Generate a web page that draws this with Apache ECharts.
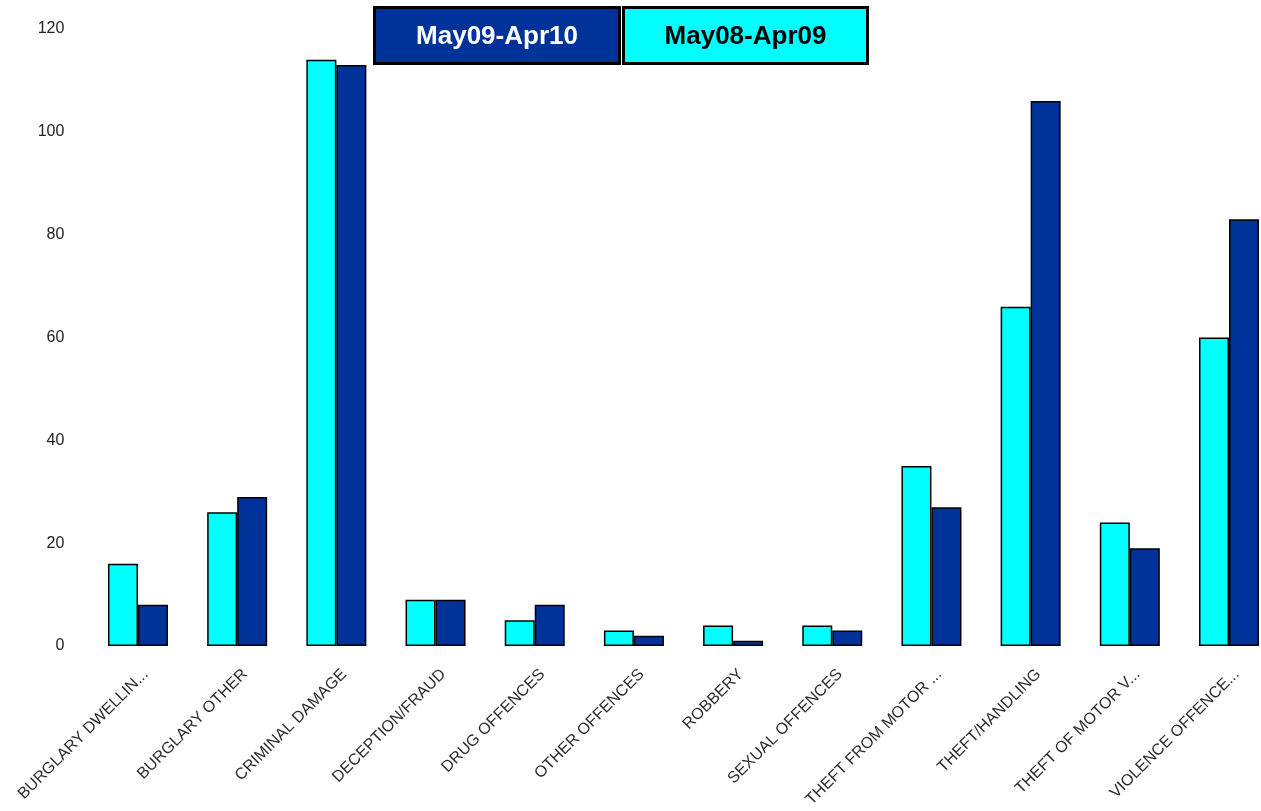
<!DOCTYPE html>
<html>
<head>
<meta charset="utf-8">
<script src="https://cdn.jsdelivr.net/npm/echarts@6/dist/echarts.min.js"></script>
<style>
html,body{margin:0;padding:0;background:#fff;}
#chart{width:1261px;height:811px;}
</style>
</head>
<body>
<div id="chart"></div>
<script>
var categories = ['BURGLARY DWELLIN...', 'BURGLARY OTHER', 'CRIMINAL DAMAGE', 'DECEPTION/FRAUD', 'DRUG OFFENCES', 'OTHER OFFENCES', 'ROBBERY', 'SEXUAL OFFENCES', 'THEFT FROM MOTOR ...', 'THEFT/HANDLING', 'THEFT OF MOTOR V...', 'VIOLENCE OFFENCE...'];
var seriesNames = ['May08-Apr09', 'May09-Apr10'];
var valuesMay08Apr09 = [16, 26, 114, 9, 5, 3, 4, 4, 35, 66, 24, 60];
var valuesMay09Apr10 = [8, 29, 113, 9, 8, 2, 1, 3, 27, 106, 19, 83];
var yTicks = [0, 20, 40, 60, 80, 100, 120];

var chart = echarts.init(document.getElementById('chart'), null, {renderer: 'canvas'});
var barStyle = function (color) {
  return {color: color, borderColor: '#000', borderWidth: 1.5};
};
var option = {
  animation: false,
  backgroundColor: '#fff',
  grid: {left: 88.4, width: 1190.2, top: 29, bottom: 165, containLabel: false, outerBoundsMode: 'none'},
  xAxis: {
    type: 'category',
    data: categories,
    axisLine: {show: false},
    axisTick: {show: false},
    splitLine: {show: false},
    axisLabel: {
      interval: 0,
      rotate: 45,
      margin: 18,
      verticalAlign: 'top',
      padding: [3, 0, 0, 0],
      fontFamily: 'Liberation Sans, Arial, sans-serif',
      fontSize: 16,
      color: '#2a2a2a'
    }
  },
  yAxis: {
    type: 'value',
    min: yTicks[0],
    max: yTicks[yTicks.length - 1],
    interval: 20,
    axisLine: {show: false},
    axisTick: {show: false},
    splitLine: {show: false},
    axisLabel: {
      margin: 24,
      fontFamily: 'Liberation Sans, Arial, sans-serif',
      fontSize: 16,
      color: '#222'
    }
  },
  series: [
    {
      name: seriesNames[0],
      type: 'bar',
      data: valuesMay08Apr09,
      barWidth: 30,
      barGap: '0%',
      itemStyle: barStyle('#00FFFF')
    },
    {
      name: seriesNames[1],
      type: 'bar',
      data: valuesMay09Apr10,
      barWidth: 30,
      barGap: '0%',
      itemStyle: barStyle('#003399')
    }
  ],
  graphic: [
    {
      type: 'rect',
      shape: {x: 374.5, y: 7.5, width: 245, height: 56},
      style: {fill: '#003399', stroke: '#000', lineWidth: 3}
    },
    {
      type: 'text',
      x: 497, y: 37,
      style: {text: seriesNames[1], fill: '#fff', font: 'bold 26px "Liberation Sans", Arial, sans-serif', align: 'center', verticalAlign: 'middle'}
    },
    {
      type: 'rect',
      shape: {x: 623.5, y: 7.5, width: 244, height: 56},
      style: {fill: '#00FFFF', stroke: '#000', lineWidth: 3}
    },
    {
      type: 'text',
      x: 745.5, y: 37,
      style: {text: seriesNames[0], fill: '#000', font: 'bold 26px "Liberation Sans", Arial, sans-serif', align: 'center', verticalAlign: 'middle'}
    }
  ]
};
chart.setOption(option);
</script>
</body>
</html>
